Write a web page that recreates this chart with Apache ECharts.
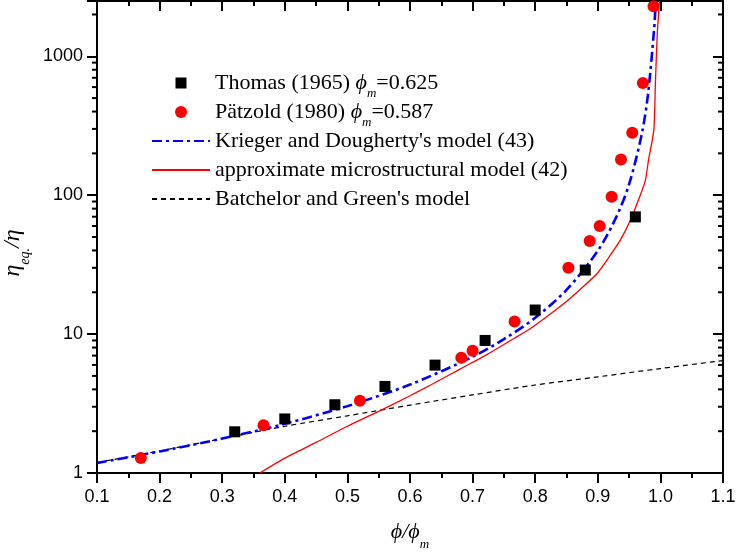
<!DOCTYPE html>
<html lang="en">
  <head>
    <meta charset="UTF-8" />
    <title>ECharts</title>
    <script src="https://cdn.jsdelivr.net/npm/echarts@6/dist/echarts.min.js"></script>
  </head>

  <body style="margin: 0">
    <div id="main" style="width: 736px; height: 554px"></div>

    <script>
      // values
      var thomasX = [0.32, 0.40, 0.48, 0.56, 0.64, 0.72, 0.80, 0.88, 0.96];
      var thomasY = [1.98, 2.45, 3.10, 4.2, 5.98, 9.0, 14.9, 28.9, 69.8];

      var patzoldX = [0.17, 0.366, 0.52, 0.682, 0.70, 0.767, 0.853, 0.887, 0.903, 0.922, 0.937, 0.955, 0.972, 0.989];
      var patzoldY = [1.28, 2.21, 3.31, 6.75, 7.59, 12.3, 30.0, 46.8, 60.0, 97.5, 181, 282, 643, 2290];

      var kriegerX = [0.1, 0.2, 0.3, 0.4, 0.5, 0.6, 0.7, 0.75, 0.8, 0.85, 0.9, 0.93, 0.95, 0.97, 0.98, 0.99, 0.9925];
      var kriegerY = [1.18, 1.43, 1.77, 2.26, 3.03, 4.33, 6.86, 9.2, 13.1, 20.8, 39.8, 70.4, 120, 272, 525, 1580, 2500];

      var microX = [0.36, 0.40, 0.45, 0.50, 0.55, 0.60, 0.633, 0.68, 0.72, 0.766, 0.79, 0.814, 0.846, 0.87, 0.899, 0.92, 0.936, 0.952, 0.966, 0.976, 0.981, 0.9895, 0.992, 0.995, 0.9986];
      var microY = [1.0, 1.28, 1.66, 2.17, 2.78, 3.6, 4.3, 5.6, 7.0, 9.3, 10.8, 12.9, 16.6, 20.6, 27.3, 37, 47.5, 66, 95, 128, 179, 294, 637, 1456, 2500];

      var batchX = [0.1, 0.2, 0.3, 0.4, 0.5, 0.6, 0.7, 0.8, 0.9, 1.0, 1.1];
      var batchY = [1.19, 1.44, 1.77, 2.17, 2.58, 3.08, 3.65, 4.3, 4.92, 5.65, 6.45];

      var xMin = 0.1, xMax = 1.1, xStep = 0.1;
      var yMin = 1, yMax = 2500;

      var names = [
        "Thomas (1965) ϕm=0.625",
        "Pätzold (1980) ϕm=0.587",
        "Krieger and Dougherty's model (43)",
        "approximate microstructural model (42)",
        "Batchelor and Green's model",
      ];
      var richNames = {};
      richNames[names[0]] = "{t|Thomas (1965) }{i|ϕ}{s|m}{t|=0.625}";
      richNames[names[1]] = "{t|Pätzold (1980) }{i|ϕ}{s|m}{t|=0.587}";

      function pairs(xs, ys) {
        var out = [];
        for (var i = 0; i < xs.length; i++) out.push([xs[i], ys[i]]);
        return out;
      }

      var serif = "Liberation Serif";
      var sans = "Liberation Sans";
      var gLeft = 97, gRight = 13, gTop = 1, gBottom = 81;

      var myChart = echarts.init(document.getElementById("main"));

      var axisLine = { show: true, lineStyle: { color: "#000", width: 2 } };
      var tickStyle = { color: "#000", width: 2 };

      var option = {
        backgroundColor: "#fff",
        animation: false,
        grid: { left: gLeft, right: gRight, top: gTop, bottom: gBottom, outerBoundsMode: "none" },
        legend: {
          orient: "vertical",
          left: 146,
          top: 61,
          itemWidth: 58,
          itemHeight: 12,
          itemGap: -5,
          data: [
            // square icon kept in the middle of the 58x12 icon box
            { name: names[0], icon: "path://M0,0M58,12M23.5,0.5h11v11h-11z" },
            { name: names[1], icon: "circle" },
            { name: names[2], itemStyle: { opacity: 0 } },
            { name: names[3], itemStyle: { opacity: 0 } },
            { name: names[4], itemStyle: { opacity: 0 } },
          ],
          textStyle: {
            fontFamily: serif,
            fontSize: 22,
            color: "#000",
            lineHeight: 34,
            rich: {
              t: { fontFamily: serif, fontSize: 22, color: "#000", lineHeight: 34 },
              i: { fontFamily: serif, fontSize: 22, fontStyle: "italic", color: "#000", lineHeight: 34 },
              s: { fontFamily: serif, fontSize: 13, fontStyle: "italic", color: "#000", verticalAlign: "bottom" },
            },
          },
          formatter: function (name) {
            return richNames[name] || "{t|" + name + "}";
          },
        },
        xAxis: [
          {
            type: "value",
            min: xMin,
            max: xMax,
            interval: xStep,
            name: "{i|ϕ/ϕ}{s|m}",
            nameLocation: "middle",
            nameGap: 40,
            nameTextStyle: {
              rich: {
                i: { fontFamily: serif, fontSize: 22, fontStyle: "italic", color: "#000", lineHeight: 38 },
                s: { fontFamily: serif, fontSize: 13, fontStyle: "italic", color: "#000", verticalAlign: "bottom" },
              },
            },
            axisLine: axisLine,
            axisTick: { show: true, length: 10, lineStyle: tickStyle },
            minorTick: { show: true, splitNumber: 2, length: 5, lineStyle: tickStyle },
            splitLine: { show: false },
            axisLabel: {
              fontFamily: sans,
              fontSize: 18,
              color: "#000",
              margin: 15,
              formatter: function (v) {
                return v.toFixed(1);
              },
            },
          },
          {
            type: "value",
            position: "top",
            min: xMin,
            max: xMax,
            interval: xStep,
            axisLine: axisLine,
            axisTick: { show: true, inside: true, length: 10, lineStyle: tickStyle },
            minorTick: { show: true, splitNumber: 2, length: 5, lineStyle: tickStyle },
            splitLine: { show: false },
            axisLabel: { show: false },
          },
        ],
        yAxis: [
          {
            type: "log",
            min: yMin,
            max: yMax,
            name: "{i|η}{s|eq.}{i|/η}",
            nameLocation: "middle",
            nameGap: 60,
            nameTextStyle: {
              padding: [0, 32, 0, 0],
              rich: {
                i: { fontFamily: serif, fontSize: 24, fontStyle: "italic", color: "#000", lineHeight: 38 },
                s: { fontFamily: serif, fontSize: 14, fontStyle: "italic", color: "#000", verticalAlign: "bottom" },
              },
            },
            axisLine: axisLine,
            axisTick: { show: true, length: 10, lineStyle: tickStyle },
            splitLine: { show: false },
            axisLabel: {
              fontFamily: sans,
              fontSize: 18,
              color: "#000",
              margin: 14,
              formatter: function (v) {
                var l = Math.log10(v);
                return Math.abs(l - Math.round(l)) < 1e-6 ? String(Math.round(v)) : "";
              },
            },
          },
          {
            type: "log",
            position: "right",
            min: yMin,
            max: yMax,
            axisLine: axisLine,
            axisTick: { show: true, inside: true, length: 10, lineStyle: tickStyle },
            splitLine: { show: false },
            axisLabel: { show: false },
          },
        ],
        series: [
          {
            name: names[4],
            type: "line",
            data: pairs(batchX, batchY),
            symbol: "none",
            smooth: 0.3,
            lineStyle: { color: "#000", width: 1.2, type: [5, 4] },
            itemStyle: { color: "#000" },
            z: 2,
          },
          {
            name: names[3],
            type: "line",
            data: pairs(microX, microY),
            symbol: "none",
            smooth: 0.2,
            lineStyle: { color: "#ff0000", width: 1.3 },
            itemStyle: { color: "#ff0000" },
            z: 3,
          },
          {
            name: names[2],
            type: "line",
            data: pairs(kriegerX, kriegerY),
            symbol: "none",
            smooth: 0.3,
            lineStyle: { color: "#0000ff", width: 2.6, type: [10, 4, 3, 4] },
            itemStyle: { color: "#0000ff" },
            z: 4,
          },
          {
            name: names[0],
            type: "scatter",
            data: pairs(thomasX, thomasY),
            symbol: "rect",
            symbolSize: 11,
            itemStyle: { color: "#000", opacity: 1 },
            z: 5,
          },
          {
            name: names[1],
            type: "scatter",
            data: pairs(patzoldX, patzoldY),
            symbol: "circle",
            symbolSize: 12,
            itemStyle: { color: "#ff0000", opacity: 1 },
            z: 6,
          },
        ],
      };
      myChart.setOption(option);

      // log minor ticks (2..9 in every decade), placed through the axis scale
      var minor = [];
      var xl = gLeft, xr = 736 - gRight;
      for (var k = 0; k < 4; k++) {
        for (var m = 2; m <= 9; m++) {
          var v = m * Math.pow(10, k);
          if (v >= yMax) continue;
          var y = myChart.convertToPixel({ yAxisIndex: 0 }, v);
          minor.push({
            type: "line",
            silent: true,
            shape: { x1: xl - 5, y1: y, x2: xl, y2: y },
            style: { stroke: "#000", lineWidth: 2 },
          });
          minor.push({
            type: "line",
            silent: true,
            shape: { x1: xr - 5, y1: y, x2: xr, y2: y },
            style: { stroke: "#000", lineWidth: 2 },
          });
        }
      }
      myChart.setOption({ graphic: minor });
    </script>
  </body>
</html>
